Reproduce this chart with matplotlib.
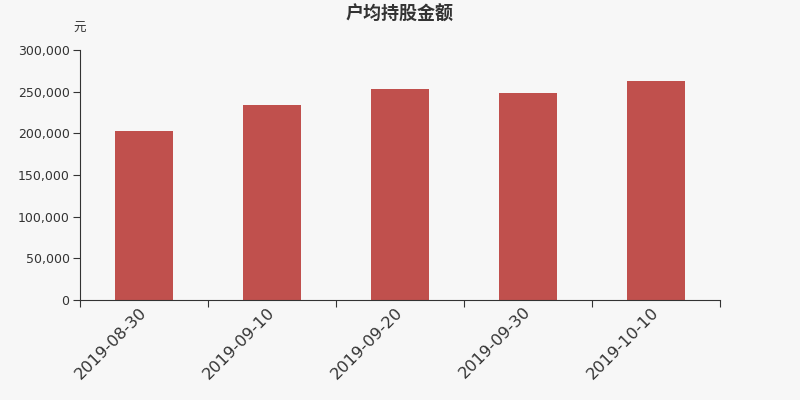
import matplotlib.pyplot as plt
import numpy as np

plt.rcParams['font.family'] = ['Noto Sans CJK SC', 'DejaVu Sans']

dates = ["2019-08-30", "2019-09-10", "2019-09-20", "2019-09-30", "2019-10-10"]
amounts = [202800, 234400, 253600, 248000, 262400]

fig = plt.figure(figsize=(8, 4), dpi=100, facecolor="#f7f7f7")
ax = fig.add_axes([0.1, 0.25, 0.8, 0.625], facecolor="#f7f7f7")

x = np.arange(len(dates))
ax.bar(x, amounts, width=0.46, color="#c0504d")

ax.set_xlim(-0.5, len(dates) - 0.5)
ax.set_ylim(0, 300000)
ax.set_yticks(np.arange(0, 300001, 50000))
ax.set_yticklabels([f"{v:,}" for v in range(0, 300001, 50000)], fontsize=9,
                   color="#333333", family="DejaVu Sans")

# ticks on category boundaries, labels at centres
ax.set_xticks(np.arange(-0.5, len(dates), 1.0))
ax.set_xticklabels([])
ax.set_xticks(x, minor=True)
ax.set_xticklabels(dates, minor=True, rotation=45, ha="right", va="center",
                   rotation_mode="anchor", fontsize=11.7, color="#333333",
                   family="DejaVu Sans")
ax.tick_params(axis="x", which="minor", length=0, pad=7)
ax.tick_params(axis="x", which="major", length=5, color="#333333")
ax.tick_params(axis="y", length=5, pad=2.5, color="#333333")

for s in ["top", "right"]:
    ax.spines[s].set_visible(False)
for s in ["left", "bottom"]:
    ax.spines[s].set_color("#333333")

fig.text(0.5, 0.965, "户均持股金额", ha="center", va="center", fontsize=13,
         fontweight="bold", color="#333333")
fig.text(0.1, 0.928, "元", ha="center", va="center", fontsize=9, color="#333333")

fig.savefig("out.png", dpi=100, facecolor=fig.get_facecolor())
